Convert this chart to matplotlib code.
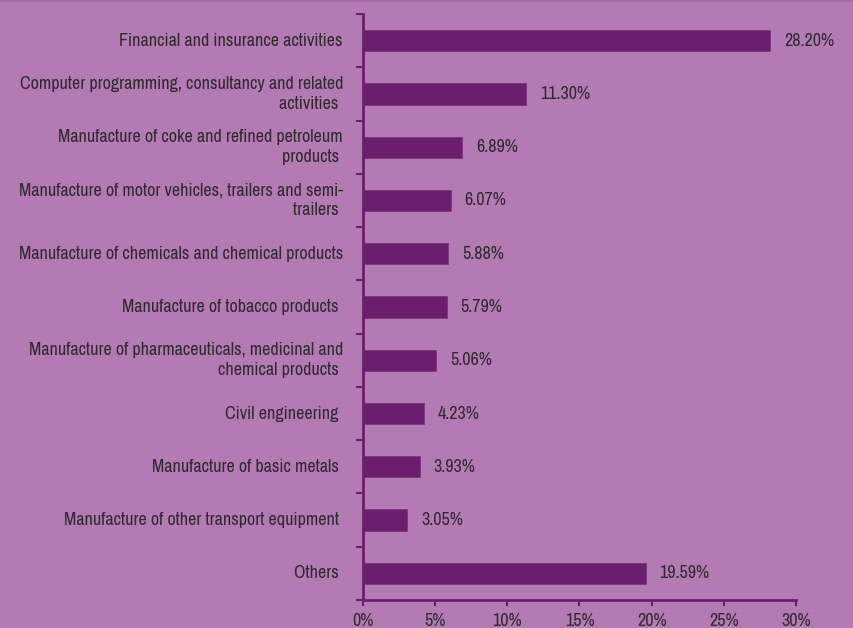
import matplotlib.pyplot as plt
from matplotlib.ticker import FuncFormatter, MultipleLocator
from matplotlib.lines import Line2D

sectors = [
    "Financial and insurance activities",
    "Computer programming, consultancy and related\nactivities ",
    "Manufacture of coke and refined petroleum\nproducts ",
    "Manufacture of motor vehicles, trailers and semi-\ntrailers ",
    "Manufacture of chemicals and chemical products",
    "Manufacture of tobacco products ",
    "Manufacture of pharmaceuticals, medicinal and\nchemical products ",
    "Civil engineering ",
    "Manufacture of basic metals ",
    "Manufacture of other transport equipment ",
    "Others ",
]
shares = [28.20, 11.30, 6.89, 6.07, 5.88, 5.79, 5.06, 4.23, 3.93, 3.05, 19.59]

bg = "#b47ab4"
bar_color = "#6a1e6d"
text_color = "#2e2a2e"
fs = 13

plt.rcParams["font.family"] = ["Archivo Narrow", "Liberation Sans", "DejaVu Sans"]

fig = plt.figure(figsize=(8.54, 6.28), dpi=100, facecolor=bg)
ax = fig.add_axes([363 / 854, 1 - 600 / 628, 433 / 854, 586 / 628])
ax.set_facecolor(bg)

pos = list(range(len(sectors)))
ax.barh(pos, shares, height=0.4, color=bar_color, edgecolor="#7e3582", linewidth=0.6)

for y, v in zip(pos, shares):
    ax.annotate("%.2f%%" % v, xy=(v, y), xytext=(10, 0), textcoords="offset points",
                ha="left", va="center", fontsize=fs, color=text_color)

# sector names, right-aligned against the axis
for y, name in zip(pos, sectors):
    ax.annotate(name, xy=(0, y), xytext=(-14.4, 0), textcoords="offset points",
                ha="right", va="center", multialignment="right", fontsize=fs,
                color=text_color, linespacing=1.3)

ax.set_xlim(0, 30)
ax.set_ylim(len(sectors) - 0.5, -0.5)
ax.xaxis.set_major_locator(MultipleLocator(5))
ax.xaxis.set_major_formatter(FuncFormatter(lambda x, _: "%d%%" % x))

# category ticks sit between the bars
ax.set_yticks([p - 0.5 for p in pos] + [len(sectors) - 0.5])
ax.set_yticklabels([])
ax.tick_params(axis="y", length=5, width=1.5, color=bar_color)
ax.tick_params(axis="x", length=4, width=1.5, color=bar_color, labelsize=fs,
               labelcolor=text_color, pad=5)

for side in ("top", "right"):
    ax.spines[side].set_visible(False)
for side in ("left", "bottom"):
    ax.spines[side].set_color(bar_color)
    ax.spines[side].set_linewidth(2)

fig.add_artist(Line2D([0, 1], [0.999, 0.999], transform=fig.transFigure,
                      color="#a468a6", linewidth=1.2))

fig.savefig("out.png", dpi=100, facecolor=bg)
